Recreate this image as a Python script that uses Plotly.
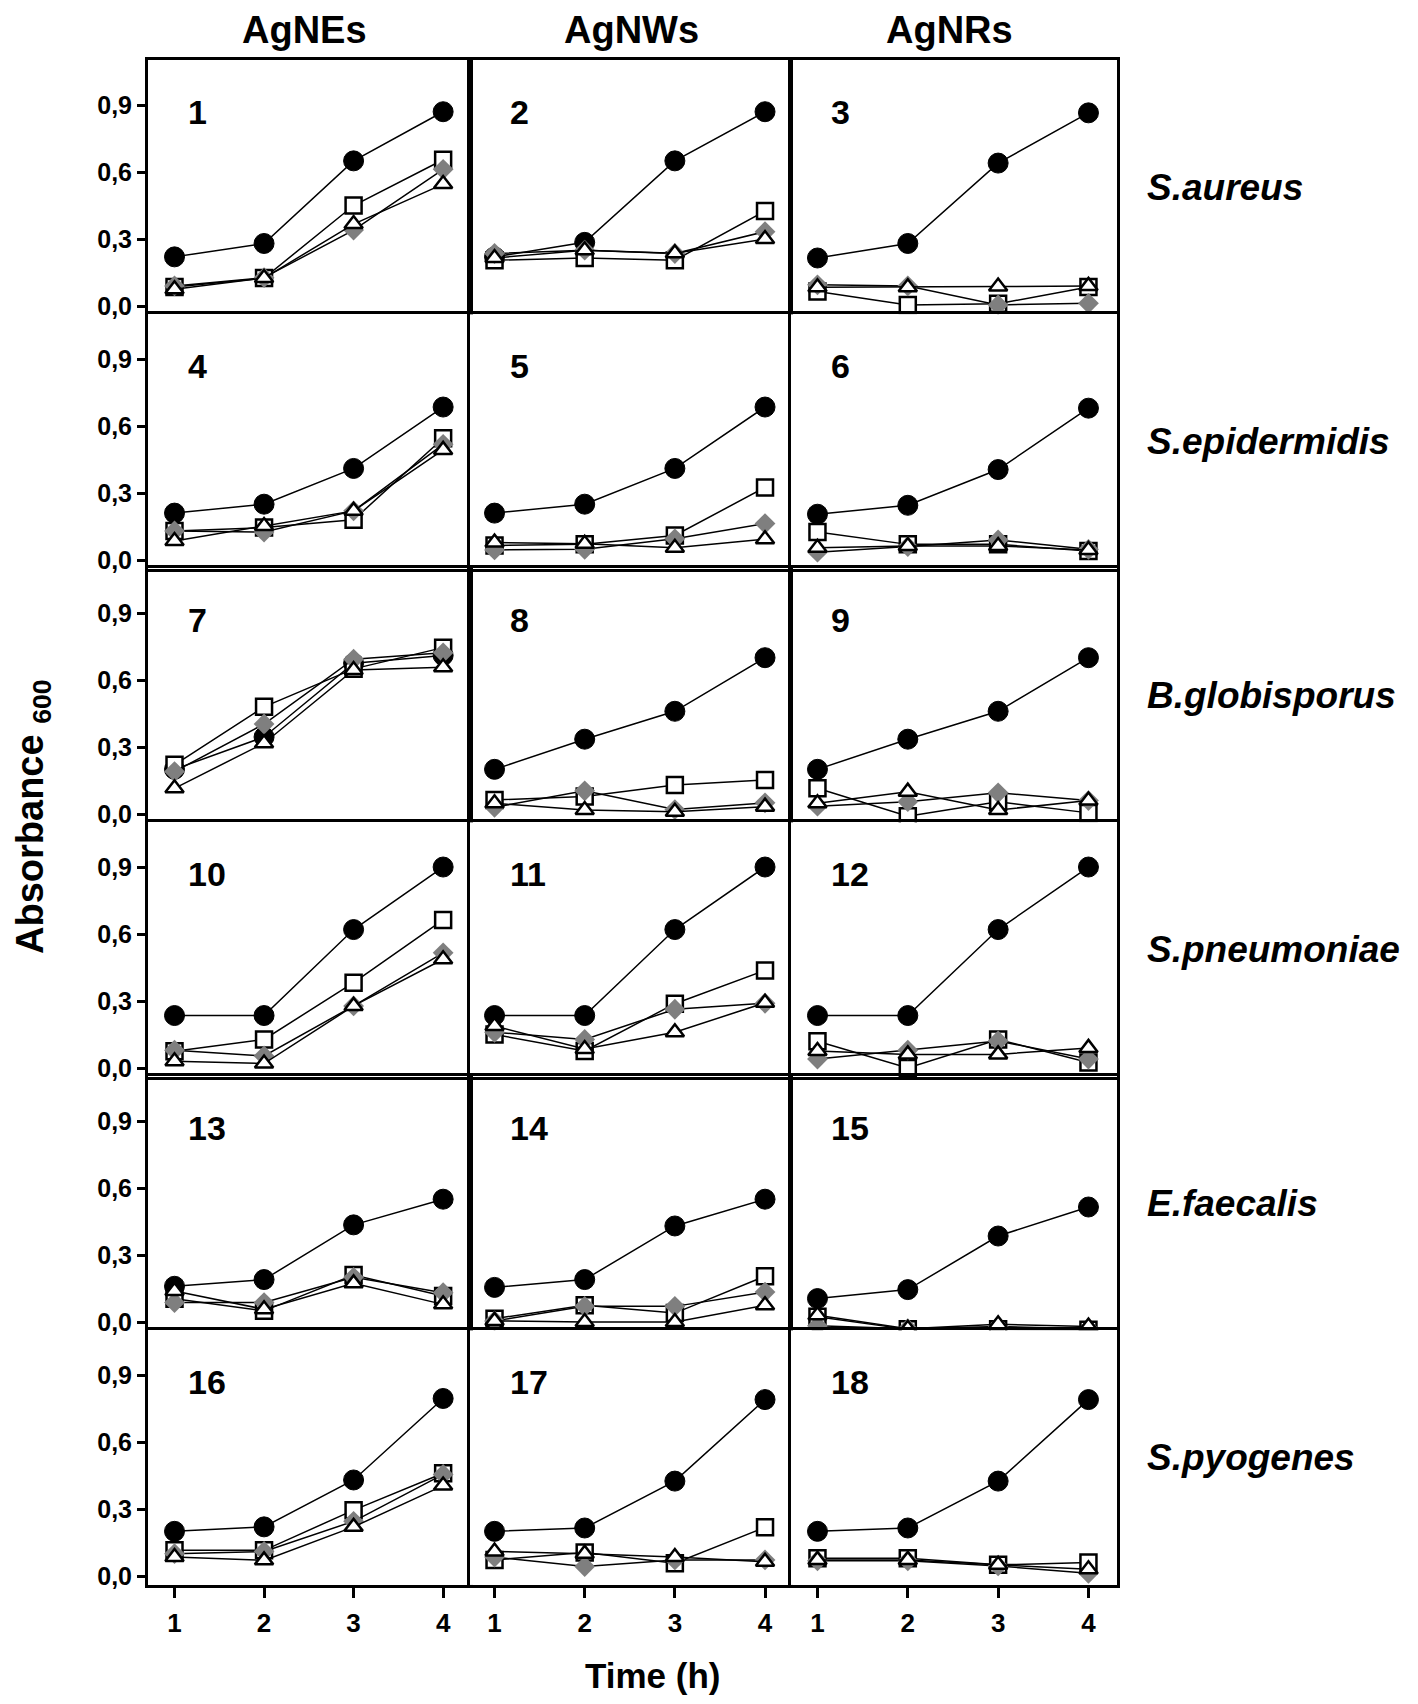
import plotly.graph_objects as go

# ---------------- data ----------------
time_h = [1, 2, 3, 4]
materials = ["AgNEs", "AgNWs", "AgNRs"]
species = ["S.aureus", "S.epidermidis", "B.globisporus", "S.pneumoniae", "E.faecalis", "S.pyogenes"]
panel_labels = [str(i) for i in range(1, 19)]
ytick_vals = [0.0, 0.3, 0.6, 0.9]
ytick_text = ["0,0", "0,3", "0,6", "0,9"]

# control (filled black circles), one list per panel 1..18
control = [
    [0.22, 0.28, 0.65, 0.87],
    [0.22, 0.285, 0.65, 0.87],
    [0.215, 0.28, 0.64, 0.865],
    [0.21, 0.25, 0.41, 0.685],
    [0.21, 0.25, 0.41, 0.685],
    [0.205, 0.245, 0.405, 0.68],
    [0.20, 0.345, 0.675, 0.71],
    [0.20, 0.335, 0.46, 0.70],
    [0.20, 0.335, 0.46, 0.70],
    [0.235, 0.235, 0.62, 0.90],
    [0.235, 0.235, 0.62, 0.90],
    [0.235, 0.235, 0.62, 0.90],
    [0.16, 0.19, 0.435, 0.55],
    [0.155, 0.19, 0.43, 0.55],
    [0.105, 0.145, 0.385, 0.515],
    [0.20, 0.22, 0.43, 0.795],
    [0.20, 0.215, 0.425, 0.79],
    [0.20, 0.215, 0.425, 0.79],
]
# open squares
square = [
    [0.085, 0.125, 0.45, 0.655],
    [0.205, 0.215, 0.205, 0.425],
    [0.065, 0.005, 0.01, 0.085],
    [0.13, 0.145, 0.18, 0.545],
    [0.065, 0.07, 0.11, 0.325],
    [0.125, 0.07, 0.07, 0.04],
    [0.22, 0.48, 0.65, 0.745],
    [0.063, 0.078, 0.13, 0.152],
    [0.115, -0.01, 0.055, 0.005],
    [0.075, 0.128, 0.382, 0.663],
    [0.15, 0.076, 0.288, 0.437],
    [0.12, 0.0, 0.128, 0.025],
    [0.104, 0.05, 0.21, 0.116],
    [0.015, 0.075, 0.04, 0.205],
    [0.024, -0.033, -0.033, -0.035],
    [0.115, 0.115, 0.295, 0.46],
    [0.072, 0.105, 0.057, 0.218],
    [0.08, 0.08, 0.05, 0.06],
]
# grey diamonds
diamond = [
    [0.09, 0.127, 0.34, 0.612],
    [0.235, 0.25, 0.235, 0.333],
    [0.095, 0.09, 0.005, 0.012],
    [0.13, 0.125, 0.22, 0.518],
    [0.045, 0.048, 0.095, 0.163],
    [0.035, 0.06, 0.09, 0.048],
    [0.19, 0.403, 0.693, 0.722],
    [0.03, 0.104, 0.02, 0.05],
    [0.035, 0.055, 0.095, 0.06],
    [0.08, 0.054, 0.278, 0.516],
    [0.16, 0.128, 0.263, 0.29],
    [0.04, 0.08, 0.121, 0.04],
    [0.087, 0.087, 0.20, 0.131],
    [0.005, 0.07, 0.07, 0.134],
    [-0.017, -0.03, -0.02, -0.03],
    [0.10, 0.11, 0.245, 0.455],
    [0.085, 0.042, 0.072, 0.072],
    [0.068, 0.068, 0.045, 0.012],
]
# open triangles
triangle = [
    [0.075, 0.125, 0.367, 0.546],
    [0.215, 0.25, 0.236, 0.30],
    [0.084, 0.084, 0.087, 0.09],
    [0.085, 0.152, 0.22, 0.493],
    [0.078, 0.073, 0.055, 0.093],
    [0.055, 0.063, 0.063, 0.045],
    [0.115, 0.317, 0.645, 0.657],
    [0.048, 0.018, 0.01, 0.033],
    [0.048, 0.10, 0.018, 0.06],
    [0.03, 0.02, 0.278, 0.487],
    [0.188, 0.085, 0.16, 0.292],
    [0.076, 0.061, 0.061, 0.09],
    [0.139, 0.057, 0.173, 0.079],
    [0.005, 0.0, 0.0, 0.075],
    [0.03, -0.03, -0.01, -0.02],
    [0.085, 0.07, 0.22, 0.405],
    [0.11, 0.10, 0.085, 0.064],
    [0.072, 0.072, 0.05, 0.03],
]

# ---------------- layout geometry (page pixels) ----------------
OFF = 8                      # default body margin of the html page
W, H = 1418 - 2 * OFF, 1704 - 2 * OFF
col_left = [148, 470, 791]
col_right = [470, 790, 1117]
col_xrange = [[0.704, 4.30], [0.728, 4.277], [0.707, 4.316]]
y_range = [-0.04, 1.10]
px_per_unit = 223.3
zero0, row_step = 306, 254.0


def xp(X):
    return (X - OFF) / W


def yp(Y):
    return 1 - (Y - OFF) / H


FONT = "Liberation Sans, Arial, Helvetica, sans-serif"

series = [
    (control, dict(symbol="circle", size=20, color="black", line=dict(color="black", width=1))),
    (square, dict(symbol="square", size=16, color="white", line=dict(color="black", width=2.5))),
    (diamond, dict(symbol="diamond", size=16, color="#7f7f7f", line=dict(color="#7f7f7f", width=0))),
    (triangle, dict(symbol="triangle-up", size=16, color="white", line=dict(color="black", width=2.5))),
]

fig = go.Figure()
layout_axes = {}
annotations = []

for k in range(18):
    r, c = divmod(k, 3)
    z = zero0 + row_step * r
    top_px = z - y_range[1] * px_per_unit
    bot_px = z - y_range[0] * px_per_unit
    xname = "x" if k == 0 else f"x{k+1}"
    yname = "y" if k == 0 else f"y{k+1}"
    xkey = "xaxis" if k == 0 else f"xaxis{k+1}"
    ykey = "yaxis" if k == 0 else f"yaxis{k+1}"

    for vals, mk in series:
        fig.add_trace(go.Scatter(
            x=time_h, y=vals[k], mode="lines+markers",
            line=dict(color="black", width=1.5),
            marker=mk, xaxis=xname, yaxis=yname, cliponaxis=False,
            showlegend=False, hoverinfo="skip"))

    layout_axes[xkey] = dict(
        domain=[xp(col_left[c]), xp(col_right[c])], range=col_xrange[c],
        anchor=yname, showline=True, mirror=True, linecolor="black", linewidth=3,
        showgrid=False, zeroline=False, tickvals=time_h,
        ticktext=[str(t) for t in time_h],
        ticks="outside" if r == 5 else "", showticklabels=(r == 5),
        ticklen=10, tickwidth=3, tickcolor="black", ticklabelstandoff=3,
        tickfont=dict(family=FONT, size=26, color="black", weight="bold"),
        automargin=False, fixedrange=True)
    layout_axes[ykey] = dict(
        domain=[yp(bot_px), yp(top_px)], range=y_range,
        anchor=xname, showline=True, mirror=True, linecolor="black", linewidth=3,
        showgrid=False, zeroline=False, tickvals=ytick_vals, ticktext=ytick_text,
        ticks="outside" if c == 0 else "", showticklabels=(c == 0),
        ticklen=8, tickwidth=3, tickcolor="black", ticklabelstandoff=0,
        tickfont=dict(family=FONT, size=25, color="black", weight="bold"),
        automargin=False, fixedrange=True)

    annotations.append(dict(
        text=panel_labels[k], xref="paper", yref="paper",
        x=xp(col_left[c] + 38), y=yp(z - 194),
        xanchor="left", yanchor="middle", showarrow=False,
        font=dict(family=FONT, size=34, color="black", weight="bold")))

# column titles (kept inside the page top edge)
for c, name in enumerate(materials):
    annotations.append(dict(
        text=name, xref="paper", yref="paper",
        x=xp([304, 631, 949][c]), y=1.0, xanchor="center", yanchor="top",
        borderpad=0,
        showarrow=False, font=dict(family=FONT, size=38, color="black", weight="bold")))

# species labels
for r, sp in enumerate(species):
    annotations.append(dict(
        text=f"<i>{sp}</i>", xref="paper", yref="paper",
        x=xp(1146), y=yp(zero0 + row_step * r - 119),
        xanchor="left", yanchor="middle", showarrow=False, borderpad=0,
        font=dict(family=FONT, size=37, color="black", weight="bold")))

# axis titles
annotations.append(dict(
    text="Absorbance <sub>600</sub>", xref="paper", yref="paper",
    x=xp(8), y=yp(817), xanchor="left", yanchor="middle", textangle=-90,
    showarrow=False, borderpad=0,
    font=dict(family=FONT, size=38, color="black", weight="bold")))
annotations.append(dict(
    text="Time (h)", xref="paper", yref="paper",
    x=xp(652), y=0.0, xanchor="center", yanchor="bottom",
    showarrow=False, borderpad=0,
    font=dict(family=FONT, size=35, color="black", weight="bold")))

fig.update_layout(
    width=W, height=H, margin=dict(l=0, r=0, t=0, b=0, autoexpand=False),
    paper_bgcolor="white", plot_bgcolor="white", showlegend=False,
    template="none", annotations=annotations, **layout_axes)

fig.write_html("out.html")
